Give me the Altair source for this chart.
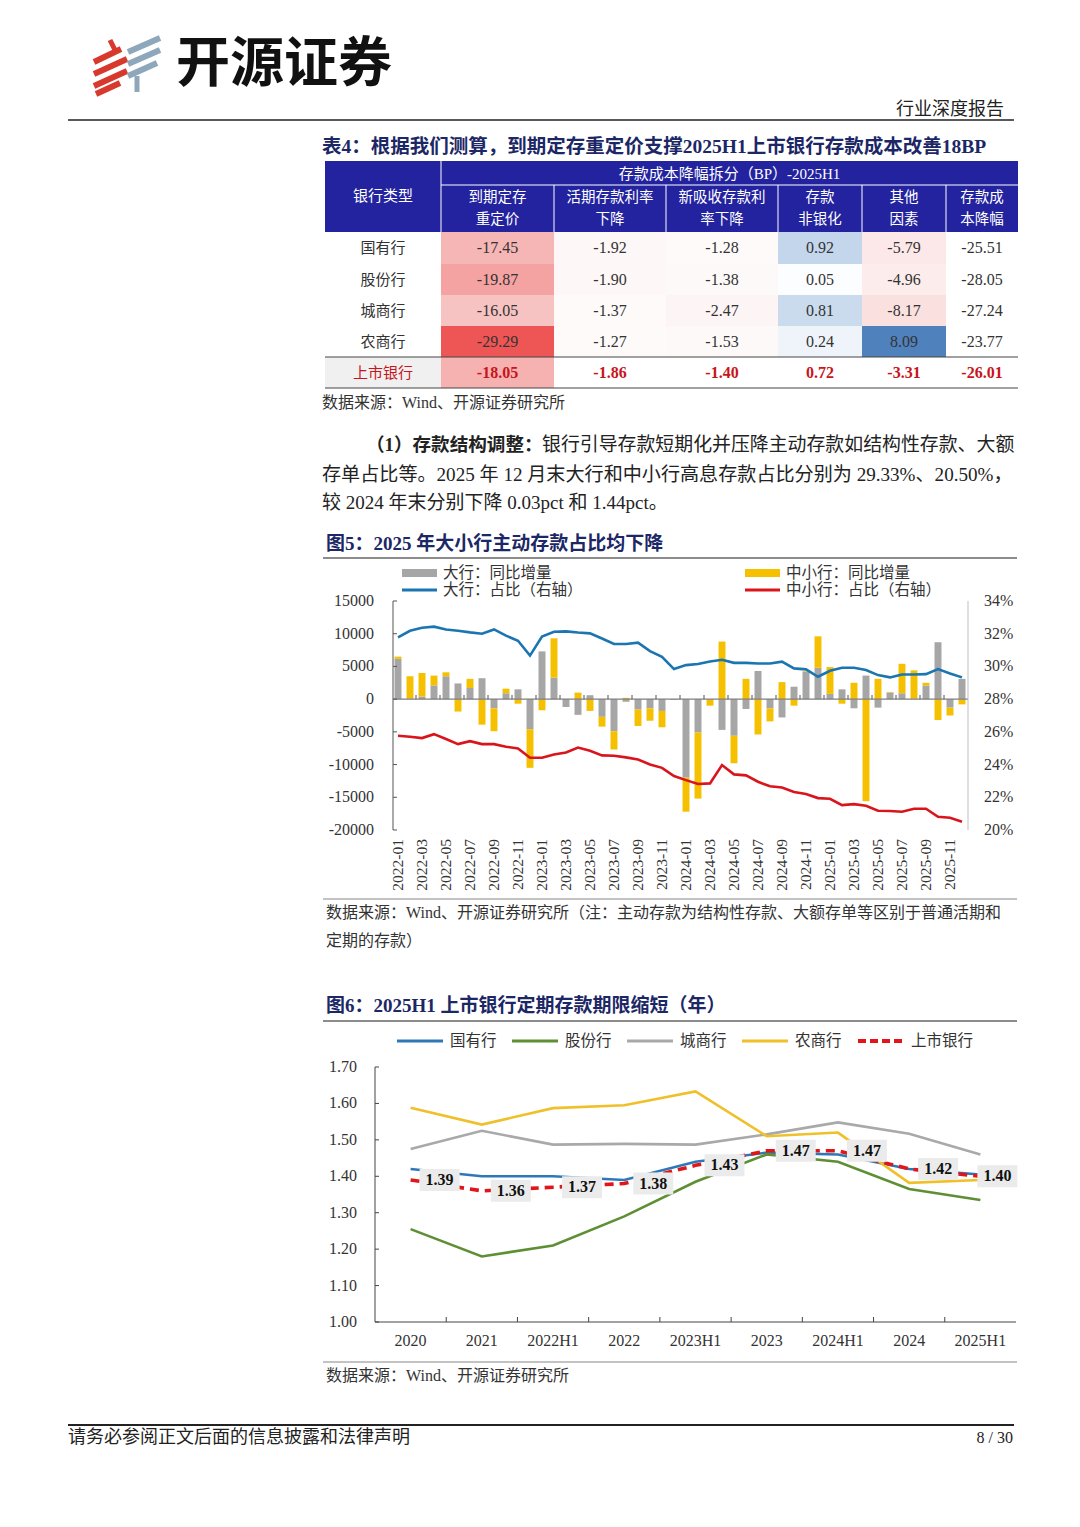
import altair as alt
import pandas as pd

OFF = 8
W, H = 1080 - 2 * OFF, 1527 - 2 * OFF


def P(v):
    return v - OFF


SERIF = "Liberation Serif, Noto Sans CJK SC"
SANS = "Noto Sans CJK SC"
NAVY = "#1c2766"
INK = "#333333"
HEAD_BLUE = "#2323a0"
RED_TXT = "#c8141c"

# ---------------- data: table 4 ----------------
bank_types = ["国有行", "股份行", "城商行", "农商行", "上市银行"]
col_headers = ["到期定存\n重定价", "活期存款利率\n下降", "新吸收存款利\n率下降", "存款\n非银化", "其他\n因素", "存款成\n本降幅"]
repricing = [-17.45, -19.87, -16.05, -29.29, -18.05]
demand_rate = [-1.92, -1.90, -1.37, -1.27, -1.86]
new_rate = [-1.28, -1.38, -2.47, -1.53, -1.40]
non_bank = [0.92, 0.05, 0.81, 0.24, 0.72]
other = [-5.79, -4.96, -8.17, 8.09, -3.31]
total = [-25.51, -28.05, -27.24, -23.77, -26.01]

# ---------------- data: figure 5 ----------------
months = [f"{y}-{m:02d}" for y in (2022, 2023, 2024, 2025) for m in range(1, 13)]
month_labels = months[::2]
big_yoy = [6150, 100, 400, 2100, 3500, 2400, 1700, 3200, -1400, 900, 1500, -4600,
           7300, 3300, -1200, -2400, 600, -2700, -4900, -400, -1600, -1400, -1800, -100,
           -12000, -5100, 0, -4700, -5600, -1500, 4300, -1400, -2800, 1900, 4200, 4800,
           800, 1500, -1400, 3600, -1300, 1000, 900, 100, 2100, 8700, -1300, 3100]
small_yoy = [350, 3400, 3600, 1500, 600, -1900, 1400, -3900, -3500, 700, -700, -5900,
             -1700, 6000, 0, 1000, -1800, -1500, -2800, 200, -2500, -1900, -2500, 0,
             -5200, -10100, -1000, 8800, -4200, 3100, -5400, -2000, 2600, -1000, 100, 4800,
             4100, -700, 2500, -15600, 3100, 100, 4500, 4300, 400, -3200, -1200, -800]
big_share = [31.78, 32.18, 32.37, 32.43, 32.26, 32.18, 32.08, 32.00, 32.26, 31.88, 31.57, 30.66,
             31.82, 32.12, 32.14, 32.07, 32.02, 31.71, 31.37, 31.37, 31.45, 30.94, 30.59, 29.84,
             30.08, 30.15, 30.30, 30.41, 30.22, 30.22, 30.18, 30.18, 30.29, 29.88, 29.82, 29.37,
             29.73, 29.92, 29.92, 29.78, 29.47, 29.33, 29.51, 29.51, 29.53, 29.84, 29.57, 29.33]
small_share = [25.76, 25.70, 25.62, 25.86, 25.56, 25.25, 25.43, 25.25, 25.25, 25.09, 24.99, 24.42,
               24.42, 24.62, 24.74, 25.04, 24.84, 24.56, 24.54, 24.44, 24.31, 24.01, 23.80, 23.30,
               23.05, 22.81, 22.85, 23.97, 23.40, 23.34, 22.95, 22.67, 22.60, 22.32, 22.20, 21.95,
               21.91, 21.52, 21.58, 21.48, 21.18, 21.16, 21.12, 21.30, 21.30, 20.81, 20.75, 20.50]
left_ticks = [15000, 10000, 5000, 0, -5000, -10000, -15000, -20000]
left_tick_labels = ["15000", "10000", "5000", "0", "-5000", "-10000", "-15000", "-20000"]
right_ticks = [34, 32, 30, 28, 26, 24, 22, 20]
right_tick_labels = ["34%", "32%", "30%", "28%", "26%", "24%", "22%", "20%"]

# ---------------- data: figure 6 ----------------
periods = ["2020", "2021", "2022H1", "2022", "2023H1", "2023", "2024H1", "2024", "2025H1"]
soe = [1.42, 1.40, 1.40, 1.39, 1.44, 1.465, 1.46, 1.42, 1.405]
jsb = [1.255, 1.18, 1.21, 1.29, 1.385, 1.46, 1.44, 1.365, 1.335]
city = [1.475, 1.525, 1.487, 1.489, 1.487, 1.515, 1.548, 1.517, 1.46]
rural = [1.588, 1.542, 1.587, 1.595, 1.633, 1.51, 1.52, 1.382, 1.39]
listed = [1.39, 1.36, 1.37, 1.38, 1.43, 1.47, 1.47, 1.42, 1.40]
series6 = ["国有行", "股份行", "城商行", "农商行", "上市银行"]
y6_ticks = [1.70, 1.60, 1.50, 1.40, 1.30, 1.20, 1.10, 1.00]
y6_labels = ["1.70", "1.60", "1.50", "1.40", "1.30", "1.20", "1.10", "1.00"]

# ---------------- helpers ----------------
one = pd.DataFrame({"k": [0]})
layers = []


def text(s, x, y, size=16, color=INK, weight="normal", align="left", font=SERIF):
    return alt.Chart(one).mark_text(text=s, fontSize=size, color=color, fontWeight=weight,
                                    align=align, baseline="middle", font=font).encode(
        x=alt.value(P(x)), y=alt.value(P(y)))


def rule(x1, y1, x2, y2, color, w=1.0, dash=None):
    kw = dict(color=color, strokeWidth=w)
    if dash:
        kw["strokeDash"] = dash
    return alt.Chart(one).mark_rule(**kw).encode(
        x=alt.value(P(x1)), y=alt.value(P(y1)), x2=alt.value(P(x2)), y2=alt.value(P(y2)))


def box(x1, y1, x2, y2, color):
    return alt.Chart(one).mark_rect(color=color).encode(
        x=alt.value(P(x1)), y=alt.value(P(y1)), x2=alt.value(P(x2)), y2=alt.value(P(y2)))


# ---------------- page header ----------------
RED_LOGO = "#d8392c"
BLUE_LOGO = "#8ea7ba"
for (a, b, c, d) in [(94, 62, 121, 49), (94, 74, 127, 59), (94, 86, 127, 71), (96, 94, 120, 83)]:
    layers.append(rule(a, b, c, d, RED_LOGO, 6))
layers.append(rule(110, 40, 116, 52, RED_LOGO, 5))
for (a, b, c, d) in [(128, 52, 160, 38), (128, 64, 160, 50), (128, 76, 157, 63)]:
    layers.append(rule(a, b, c, d, BLUE_LOGO, 6))
layers.append(rule(137, 76, 137, 92, BLUE_LOGO, 5))
layers.append(text("开源证券", 176, 66, size=54, color="#111111", weight="bold", font=SANS))
layers.append(text("行业深度报告", 1004, 110, size=18, color="#222222", align="right"))
layers.append(rule(68, 120, 1014, 120, "#222222", 1.5))

# ---------------- table 4 ----------------
layers.append(text("表4：根据我们测算，到期定存重定价支撑2025H1上市银行存款成本改善18BP", 322, 147,
                   size=19.5, color=NAVY, weight="bold"))

COL_EDGES = [325, 441, 554, 666, 778, 862, 946, 1018]
ROW_EDGES = [161, 185, 232, 264, 295, 326, 357, 388]
TX = alt.Scale(type="linear", domain=list(range(8)), range=[P(e) for e in COL_EDGES], zero=False, nice=False)
TY = alt.Scale(type="linear", domain=list(range(8)), range=[P(e) for e in ROW_EDGES], zero=False, nice=False)

rows = []
for ri, b in enumerate(bank_types):
    for ci, vals in enumerate([repricing, demand_rate, new_rate, non_bank, other, total]):
        rows.append({"bank": b, "r": ri + 2, "c": ci + 1, "v": vals[ri], "lab": f"{vals[ri]:.2f}"})
cells = pd.DataFrame(rows)
base_cells = alt.Chart(cells).transform_calculate(
    c2="datum.c + 1", r2="datum.r + 1", cm="datum.c + 0.5", rm="datum.r + 0.5")

layers.append(box(325, 161, 1018, 232, HEAD_BLUE))
layers.append(box(325, 357, 441, 388, "#f0f0f0"))

heat_a = base_cells.transform_filter(
    "(datum.c == 1) || (datum.r < 6 && (datum.c == 2 || datum.c == 3 || datum.c == 5))"
).mark_rect().encode(
    x=alt.X("c:Q", scale=TX, axis=None), x2="c2:Q",
    y=alt.Y("r:Q", scale=TY, axis=None), y2="r2:Q",
    color=alt.Color("v:Q", legend=None,
                    scale=alt.Scale(domain=[-30, -16, -3, 0, 8.09], interpolate="rgb",
                                    range=["#ee5050", "#f7c2c2", "#fdf3f3", "#ffffff", "#4f81bd"])))
heat_b = base_cells.transform_filter("datum.r < 6 && datum.c == 4").mark_rect().encode(
    x=alt.X("c:Q", scale=TX, axis=None), x2="c2:Q",
    y=alt.Y("r:Q", scale=TY, axis=None), y2="r2:Q",
    color=alt.Color("v:Q", legend=None,
                    scale=alt.Scale(domain=[0, 0.92], interpolate="rgb", range=["#ffffff", "#c3d6ec"])))
layers += [heat_a, heat_b]

# header separators
layers.append(rule(441, 161, 441, 232, "#ffffff", 1))
layers.append(rule(441, 185, 1018, 185, "#ffffff", 1))
for e in [554, 666, 778, 862, 946]:
    layers.append(rule(e, 185, e, 232, "#ffffff", 1))
layers.append(rule(325, 357, 1018, 357, "#444444", 1.2))
layers.append(rule(325, 388, 1018, 388, "#444444", 1.2))

layers.append(text("银行类型", 383, 196, size=15, color="#ffffff", align="center"))
layers.append(text("存款成本降幅拆分（BP）-2025H1", 729.5, 174, size=15, color="#ffffff", align="center"))
hdr = pd.DataFrame({"h": col_headers, "c": list(range(1, 7))})
layers.append(alt.Chart(hdr).transform_calculate(cm="datum.c + 0.5").mark_text(
    font=SERIF, fontSize=14.5, color="#ffffff", lineBreak="\n", lineHeight=22, baseline="middle").encode(
    x=alt.X("cm:Q", scale=TX, axis=None), y=alt.value(P(198)), text="h:N"))

layers.append(base_cells.transform_filter("datum.r < 6").mark_text(
    font=SERIF, fontSize=16, color=INK, baseline="middle").encode(
    x=alt.X("cm:Q", scale=TX, axis=None), y=alt.Y("rm:Q", scale=TY, axis=None), text="lab:N"))
layers.append(base_cells.transform_filter("datum.r == 6").mark_text(
    font=SERIF, fontSize=16, color=RED_TXT, fontWeight="bold", baseline="middle").encode(
    x=alt.X("cm:Q", scale=TX, axis=None), y=alt.Y("rm:Q", scale=TY, axis=None), text="lab:N"))

rowlab = pd.DataFrame({"bank": bank_types, "r": list(range(2, 7))})
layers.append(alt.Chart(rowlab).transform_calculate(rm="datum.r + 0.5").mark_text(
    font=SERIF, fontSize=15, baseline="middle").encode(
    x=alt.value(P(383)), y=alt.Y("rm:Q", scale=TY, axis=None), text="bank:N",
    color=alt.condition("datum.r == 6", alt.value(RED_TXT), alt.value(INK))))

layers.append(text("数据来源：Wind、开源证券研究所", 322, 403, size=16))

# ---------------- paragraph ----------------
layers.append(text("（1）存款结构调整：", 366, 445, size=18.6, color="#222222", weight="bold"))
layers.append(text("银行引导存款短期化并压降主动存款如结构性存款、大额", 542, 445, size=18.9, color="#222222"))
layers.append(text("存单占比等。2025 年 12 月末大行和中小行高息存款占比分别为 29.33%、20.50%，", 322, 475,
                   size=19.1, color="#222222"))
layers.append(text("较 2024 年末分别下降 0.03pct 和 1.44pct。", 322, 503, size=19, color="#222222"))

# ---------------- figure 5 ----------------
GRAY5 = "#a6a6a6"
YEL5 = "#f5c000"
BLUE5 = "#1b75b0"
RED5 = "#d9141b"
layers.append(text("图5：2025 年大小行主动存款占比均下降", 326, 544, size=19, color=NAVY, weight="bold"))
layers.append(rule(323, 558, 1017, 558, "#666666", 1.5))
layers.append(box(402, 569, 437, 577, GRAY5))
layers.append(text("大行：同比增量", 443, 573, size=15.5))
layers.append(box(745, 569, 780, 577, YEL5))
layers.append(text("中小行：同比增量", 786, 573, size=15.5))
layers.append(rule(402, 590, 437, 590, BLUE5, 3))
layers.append(text("大行：占比（右轴）", 443, 590, size=15.5))
layers.append(rule(745, 590, 780, 590, RED5, 3))
layers.append(text("中小行：占比（右轴）", 786, 590, size=15.5))

XB = alt.Scale(type="band", domain=months, range=[P(392), P(968)], paddingInner=0.42, paddingOuter=0.21)
XT = alt.Scale(type="band", domain=months, range=[P(392), P(968)], paddingInner=0, paddingOuter=0)
YL = alt.Scale(domain=[-20000, 15000], range=[P(830), P(601)], zero=False, nice=False)
YR = alt.Scale(domain=[20, 34], range=[P(830), P(601)], zero=False, nice=False)

bars_df = pd.DataFrame(
    [{"month": m, "series": "大行：同比增量", "value": v, "ord": 0} for m, v in zip(months, big_yoy)] +
    [{"month": m, "series": "中小行：同比增量", "value": v, "ord": 1} for m, v in zip(months, small_yoy)])
share_df = pd.DataFrame(
    [{"month": m, "series": "大行：占比（右轴）", "pct": v} for m, v in zip(months, big_share)] +
    [{"month": m, "series": "中小行：占比（右轴）", "pct": v} for m, v in zip(months, small_share)])

layers.append(alt.Chart(bars_df).mark_bar().encode(
    x=alt.X("month:N", scale=XB, axis=None),
    y=alt.Y("value:Q", scale=YL, axis=None, stack="zero"),
    color=alt.Color("series:N", legend=None,
                    scale=alt.Scale(domain=["大行：同比增量", "中小行：同比增量"], range=[GRAY5, YEL5])),
    order=alt.Order("ord:Q")))

# axes of figure 5
zero_df = pd.DataFrame({"v": [0]})
layers.append(alt.Chart(zero_df).mark_rule(color="#7f7f7f", strokeWidth=1.2).encode(
    x=alt.value(P(393)), x2=alt.value(P(968)), y=alt.Y("v:Q", scale=YL, axis=None)))
tick5 = pd.DataFrame({"month": months[2::2], "v": 0})
layers.append(alt.Chart(tick5).mark_rule(color="#555555", strokeWidth=1).encode(
    x=alt.X("month:N", scale=XT, axis=None, bandPosition=0),
    y=alt.Y("v:Q", scale=YL, axis=None), y2=alt.value(P(695))))
layers.append(rule(393, 601, 393, 830, "#555555", 1))
lt = pd.DataFrame({"v": left_ticks, "lab": left_tick_labels})
layers.append(alt.Chart(lt).mark_rule(color="#555555").encode(
    x=alt.value(P(393)), x2=alt.value(P(397)), y=alt.Y("v:Q", scale=YL, axis=None)))
layers.append(alt.Chart(lt).mark_text(font=SERIF, fontSize=16, color=INK, align="right", baseline="middle").encode(
    x=alt.value(P(374)), y=alt.Y("v:Q", scale=YL, axis=None), text="lab:N"))
layers.append(rule(968, 601, 968, 830, "#bfbfbf", 1))
rt = pd.DataFrame({"v": right_ticks, "lab": right_tick_labels})
layers.append(alt.Chart(rt).mark_text(font=SERIF, fontSize=16, color=INK, align="left", baseline="middle").encode(
    x=alt.value(P(984)), y=alt.Y("v:Q", scale=YR, axis=None), text="lab:N"))
ml = pd.DataFrame({"month": month_labels})
layers.append(alt.Chart(ml).mark_text(font=SERIF, fontSize=15.5, color=INK, align="right", baseline="middle",
                                      angle=270).encode(
    x=alt.X("month:N", scale=XB, axis=None, bandPosition=0.5), y=alt.value(P(839)), text="month:N"))

layers.append(alt.Chart(share_df).mark_line(strokeWidth=2.6).encode(
    x=alt.X("month:N", scale=XB, axis=None, bandPosition=0.5),
    y=alt.Y("pct:Q", scale=YR, axis=None),
    color=alt.Color("series:N", legend=None,
                    scale=alt.Scale(domain=["大行：占比（右轴）", "中小行：占比（右轴）"], range=[BLUE5, RED5]))))

layers.append(rule(323, 899, 1017, 899, "#888888", 1.2))
layers.append(text("数据来源：Wind、开源证券研究所（注：主动存款为结构性存款、大额存单等区别于普通活期和",
                   326, 913, size=16))
layers.append(text("定期的存款）", 326, 941, size=16))

# ---------------- figure 6 ----------------
C_SOE = "#2e78b8"
C_JSB = "#5e8f35"
C_CITY = "#a9a9a9"
C_RURAL = "#f0c02a"
C_LIST = "#e0161b"
layers.append(text("图6：2025H1 上市银行定期存款期限缩短（年）", 326, 1006, size=19, color=NAVY, weight="bold"))
layers.append(rule(323, 1021, 1017, 1021, "#666666", 1.5))
leg6 = [(397, 443, 450, "国有行", C_SOE), (512, 558, 565, "股份行", C_JSB), (627, 673, 680, "城商行", C_CITY),
        (742, 788, 795, "农商行", C_RURAL)]
for a, b, t, s, c in leg6:
    layers.append(rule(a, 1041, b, 1041, c, 3))
    layers.append(text(s, t, 1041, size=15.5))
layers.append(rule(858, 1041, 903, 1041, C_LIST, 4, dash=[8, 4]))
layers.append(text("上市银行", 911, 1041, size=15.5))

X6 = alt.Scale(type="band", domain=periods, range=[P(375), P(1016)], paddingInner=0, paddingOuter=0)
Y6 = alt.Scale(domain=[1.0, 1.7], range=[P(1322), P(1067)], zero=False, nice=False)

solid_df = pd.DataFrame(
    [{"period": p, "series": s, "v": v}
     for s, vals in zip(series6[:4], [soe, jsb, city, rural]) for p, v in zip(periods, vals)])
listed_df = pd.DataFrame({"period": periods, "v": listed, "lab": [f"{v:.2f}" for v in listed],
                          "last": [p == periods[-1] for p in periods]})

layers.append(rule(375, 1067, 375, 1322, "#444444", 1))
yt6 = pd.DataFrame({"v": y6_ticks, "lab": y6_labels})
layers.append(alt.Chart(yt6).mark_rule(color="#444444").encode(
    x=alt.value(P(375)), x2=alt.value(P(379)), y=alt.Y("v:Q", scale=Y6, axis=None)))
layers.append(alt.Chart(yt6).mark_text(font=SERIF, fontSize=16, color=INK, align="right", baseline="middle").encode(
    x=alt.value(P(357)), y=alt.Y("v:Q", scale=Y6, axis=None), text="lab:N"))
layers.append(rule(375, 1322, 1016, 1322, "#444444", 1))
xt6 = pd.DataFrame({"period": periods[1:], "v": 1.0})
layers.append(alt.Chart(xt6).mark_rule(color="#444444").encode(
    x=alt.X("period:N", scale=X6, axis=None, bandPosition=0),
    y=alt.Y("v:Q", scale=Y6, axis=None), y2=alt.value(P(1317))))
xl6 = pd.DataFrame({"period": periods})
layers.append(alt.Chart(xl6).mark_text(font=SERIF, fontSize=16, color=INK, baseline="middle").encode(
    x=alt.X("period:N", scale=X6, axis=None, bandPosition=0.5), y=alt.value(P(1341)), text="period:N"))

layers.append(alt.Chart(solid_df).mark_line(strokeWidth=2.6).encode(
    x=alt.X("period:N", scale=X6, axis=None, bandPosition=0.5),
    y=alt.Y("v:Q", scale=Y6, axis=None),
    color=alt.Color("series:N", legend=None,
                    scale=alt.Scale(domain=series6[:4], range=[C_SOE, C_JSB, C_CITY, C_RURAL]))))
layers.append(alt.Chart(listed_df).mark_line(strokeWidth=3.6, strokeDash=[9, 6], color=C_LIST).encode(
    x=alt.X("period:N", scale=X6, axis=None, bandPosition=0.5),
    y=alt.Y("v:Q", scale=Y6, axis=None)))
for filt, shape, dx in [("!datum.last", "M0.45,-0.55 L2.45,-0.55 L2.45,0.55 L0.45,0.55 Z", 29),
                        ("datum.last", "M-0.15,-0.55 L1.85,-0.55 L1.85,0.55 L-0.15,0.55 Z", 17)]:
    layers.append(alt.Chart(listed_df).transform_filter(filt).mark_point(
        shape=shape, size=1600, filled=True, color="#ebebeb", opacity=1).encode(
        x=alt.X("period:N", scale=X6, axis=None, bandPosition=0.5),
        y=alt.Y("v:Q", scale=Y6, axis=None)))
    layers.append(alt.Chart(listed_df).transform_filter(filt).mark_text(
        font=SERIF, fontSize=16, fontWeight="bold", color="#111111", dx=dx, baseline="middle").encode(
        x=alt.X("period:N", scale=X6, axis=None, bandPosition=0.5),
        y=alt.Y("v:Q", scale=Y6, axis=None), text="lab:N"))

layers.append(rule(323, 1362, 1017, 1362, "#888888", 1.2))
layers.append(text("数据来源：Wind、开源证券研究所", 326, 1376, size=16))

# ---------------- footer ----------------
layers.append(rule(68, 1425, 1014, 1425, "#222222", 2))
layers.append(text("请务必参阅正文后面的信息披露和法律声明", 68, 1438, size=18, color="#222222"))
layers.append(text("8 / 30", 1013, 1438, size=16, color="#222222", align="right"))

chart = alt.layer(*layers).resolve_scale(
    x="independent", y="independent", color="independent"
).properties(
    width=W, height=H, padding=0, background="white",
    autosize=alt.AutoSizeParams(type="none")
).configure_view(stroke=None)

chart.save("out.html", embed_options={"renderer": "svg", "actions": False})
